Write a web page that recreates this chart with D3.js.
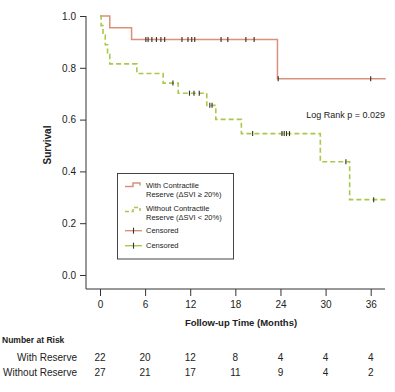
<!DOCTYPE html>
<html>
<head>
<meta charset="utf-8">
<script src="https://cdn.jsdelivr.net/npm/d3@7"></script>
<style>
  body { margin: 0; background: #fff; }
  text { font-family: "Liberation Sans", Arial, Helvetica, sans-serif; fill: #222; }
</style>
</head>
<body>
<script>
// step curves: time (months) where the level starts, survival level
var withTimes = [0, 1.3, 4.2, 23.6]
var withSurv = [1.0, 0.955, 0.909, 0.758]
var withCensor = [6.1, 6.4, 6.9, 7.5, 8.1, 8.6, 10.9, 11.7, 12.2, 12.6, 16.1, 17.0, 19.4, 20.5, 23.7, 36.0]

var withoutTimes = [0, 0.15, 0.4, 0.7, 1.0, 1.3, 4.9, 8.4, 10.4, 14.2, 15.4, 18.8, 29.3, 33.2]
var withoutSurv = [1.0, 0.963, 0.926, 0.889, 0.852, 0.815, 0.778, 0.741, 0.702, 0.655, 0.601, 0.546, 0.437, 0.291]
var withoutCensor = [9.7, 11.9, 12.5, 13.2, 14.6, 14.9, 20.3, 24.2, 24.5, 24.8, 25.2, 32.7, 36.4]

var endTime = 38

var xTicks = [0, 6, 12, 18, 24, 30, 36]
var yTicks = [0.0, 0.2, 0.4, 0.6, 0.8, 1.0]
var riskWith = [22, 20, 12, 8, 4, 4, 4]
var riskWithout = [27, 21, 17, 11, 9, 4, 2]

var redCol = "#d9917c"
var greenCol = "#a9c84c"

var svg = d3.select("body").append("svg")
  .attr("width", 395)
  .attr("height", 392)

var x = d3.scaleLinear().domain([0, 36]).range([100, 370.7])
var y = d3.scaleLinear().domain([0, 1]).range([275, 16])

// axes
svg.append("line").attr("x1", 86).attr("x2", 86).attr("y1", 16).attr("y2", 289)
  .attr("stroke", "#333").attr("stroke-width", 1)
svg.append("line").attr("x1", 86).attr("x2", 385).attr("y1", 289).attr("y2", 289)
  .attr("stroke", "#333").attr("stroke-width", 1)

var yAxis = svg.append("g").attr("transform", "translate(86,0)")
  .call(d3.axisLeft(y).tickValues(yTicks).tickFormat(d3.format(".1f")).tickSize(6).tickPadding(4))
yAxis.select(".domain").remove()
yAxis.selectAll("line").attr("stroke", "#333")
yAxis.selectAll("text").attr("font-size", "10px").attr("fill", "#222")
  .style("font-family", "'Liberation Sans', Arial, sans-serif")

var xAxis = svg.append("g").attr("transform", "translate(0,289)")
  .call(d3.axisBottom(x).tickValues(xTicks).tickSize(7).tickPadding(5))
xAxis.select(".domain").remove()
xAxis.selectAll("line").attr("stroke", "#333")
xAxis.selectAll("text").attr("font-size", "10px").attr("fill", "#222")
  .style("font-family", "'Liberation Sans', Arial, sans-serif")

svg.append("text")
  .attr("transform", "translate(51,145) rotate(-90)")
  .attr("text-anchor", "middle")
  .attr("font-size", "10px").attr("font-weight", "bold")
  .text("Survival")

svg.append("text")
  .attr("x", 241).attr("y", 326)
  .attr("text-anchor", "middle")
  .attr("font-size", "9.5px").attr("font-weight", "bold")
  .text("Follow-up Time (Months)")

// curves
function stepPoints(times, surv) {
  var pts = times.map(function(t, i) { return [t, surv[i]] })
  pts.push([endTime, surv[surv.length - 1]])
  return pts
}
function levelAt(times, surv, t) {
  var i = d3.bisectRight(times, t) - 1
  return surv[Math.max(0, i)]
}

var line = d3.line()
  .x(function(d) { return x(d[0]) })
  .y(function(d) { return y(d[1]) })
  .curve(d3.curveStepAfter)

svg.append("path").datum(stepPoints(withTimes, withSurv))
  .attr("d", line).attr("fill", "none")
  .attr("stroke", redCol).attr("stroke-width", 1.5)

svg.append("path").datum(stepPoints(withoutTimes, withoutSurv))
  .attr("d", line).attr("fill", "none")
  .attr("stroke", greenCol).attr("stroke-width", 1.6)
  .attr("stroke-dasharray", "5,3")

svg.selectAll("line.cw")
  .data(withCensor).enter()
  .append("line").attr("class", "cw")
  .attr("x1", function(d) { return x(d) }).attr("x2", function(d) { return x(d) })
  .attr("y1", function(d) { return y(levelAt(withTimes, withSurv, d)) - 2.5 })
  .attr("y2", function(d) { return y(levelAt(withTimes, withSurv, d)) + 2.5 })
  .attr("stroke", "#3a2a22").attr("stroke-width", 1.1)

svg.selectAll("line.cwo")
  .data(withoutCensor).enter()
  .append("line").attr("class", "cwo")
  .attr("x1", function(d) { return x(d) }).attr("x2", function(d) { return x(d) })
  .attr("y1", function(d) { return y(levelAt(withoutTimes, withoutSurv, d)) - 2.5 })
  .attr("y2", function(d) { return y(levelAt(withoutTimes, withoutSurv, d)) + 2.5 })
  .attr("stroke", "#2f3322").attr("stroke-width", 1.1)

svg.append("text")
  .attr("x", 385).attr("y", 118)
  .attr("text-anchor", "end")
  .attr("font-size", "9px")
  .text("Log Rank p = 0.029")

// legend
var lg = svg.append("g")
lg.append("rect").attr("x", 117.5).attr("y", 173.5).attr("width", 116).attr("height", 85.5)
  .attr("fill", "#fff").attr("stroke", "#444").attr("stroke-width", 1)

lg.append("path").attr("d", "M125,186.5H133V183H140V185.5")
  .attr("fill", "none").attr("stroke", redCol).attr("stroke-width", 1.5)
lg.append("path").attr("d", "M125,211.5H133V207.5H140V211")
  .attr("fill", "none").attr("stroke", greenCol).attr("stroke-width", 1.5)
  .attr("stroke-dasharray", "4,2.5")

var legendText = [
  ["With Contractile", 188.3],
  ["Reserve (\u0394SVI \u2265 20%)", 196.5],
  ["Without Contractile", 211],
  ["Reserve (\u0394SVI < 20%)", 219.8],
  ["Censored", 233.4],
  ["Censored", 248.3]
]
lg.selectAll("text")
  .data(legendText).enter()
  .append("text")
  .attr("x", 146).attr("y", function(d) { return d[1] })
  .attr("font-size", "7.5px")
  .text(function(d) { return d[0] })

var censorLegend = [[230.7, redCol], [245.7, greenCol]]
censorLegend.forEach(function(c) {
  lg.append("line").attr("x1", 125).attr("x2", 142).attr("y1", c[0]).attr("y2", c[0])
    .attr("stroke", c[1]).attr("stroke-width", 1.4)
  lg.append("line").attr("x1", 133.5).attr("x2", 133.5).attr("y1", c[0] - 3).attr("y2", c[0] + 3)
    .attr("stroke", "#333").attr("stroke-width", 1.1)
})

// number at risk table
svg.append("text")
  .attr("x", 2).attr("y", 343)
  .attr("font-size", "8.5px").attr("font-weight", "bold")
  .text("Number at Risk")

var rows = [["With Reserve", riskWith, 360.5], ["Without Reserve", riskWithout, 376]]
rows.forEach(function(r) {
  svg.append("text").attr("x", 77).attr("y", r[2])
    .attr("text-anchor", "end").attr("font-size", "10px")
    .text(r[0])
  svg.selectAll(null)
    .data(r[1]).enter()
    .append("text")
    .attr("x", function(d, i) { return x(xTicks[i]) })
    .attr("y", r[2])
    .attr("text-anchor", "middle").attr("font-size", "10px")
    .text(function(d) { return d })
})
</script>
</body>
</html>
